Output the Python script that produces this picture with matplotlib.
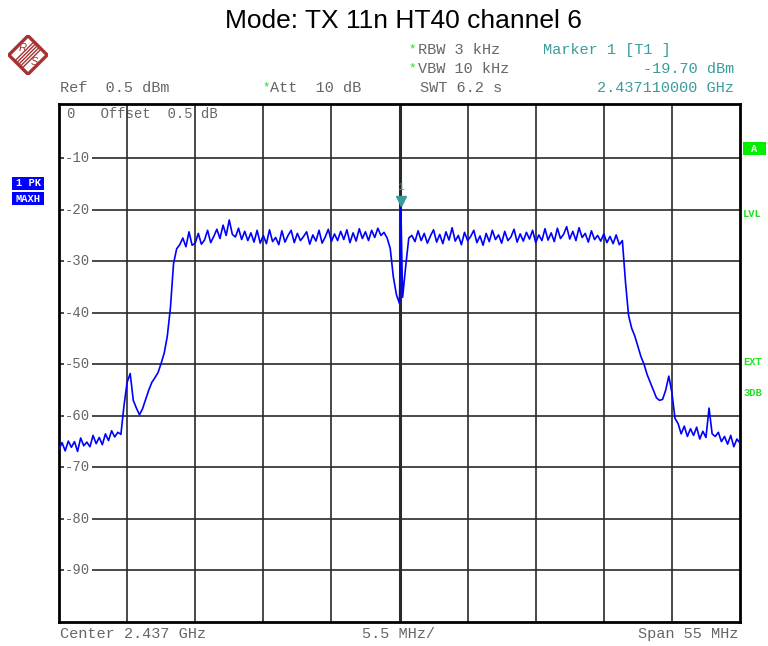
import numpy as np
import matplotlib
matplotlib.use('Agg')
import matplotlib.pyplot as plt
from matplotlib.patches import Polygon, Rectangle
import matplotlib.transforms as mtransforms

# Trace levels (dBm), sweep step 0.25 MHz, frequencies as offset from centre (MHz)
piso_esq = [-66.5, -65.2, -66.8, -64.9, -66.1, -65.0, -66.9, -64.3, -65.8, -65.1, -66.0,
            -63.8, -65.4, -64.2, -65.6, -63.5, -64.8, -62.9, -64.1, -63.2, -63.6]
borda_esq = [-58.0, -53.5, -51.8, -57.0, -58.5, -59.8, -58.6, -56.8, -55.0, -53.5, -52.6,
             -51.6, -49.8, -47.8, -44.5, -39.0, -30.5, -27.6]
banda_esq = [-26.8, -25.5, -27.2, -24.3, -26.9, -26.5, -24.6, -26.7, -25.9, -24.0, -26.4,
             -25.2, -23.8, -25.6, -23.0, -25.0, -22.0, -24.8, -25.3, -23.6, -25.8, -24.2,
             -26.0, -24.5, -26.3, -24.0, -26.5, -25.0, -26.6, -23.9, -26.2, -25.4, -26.8,
             -24.1, -26.3, -25.0, -24.0, -26.4, -24.6, -26.0, -25.2, -24.3, -26.7, -24.9,
             -26.1, -24.0, -26.5, -25.3, -23.8, -26.2, -24.7, -26.0, -24.2, -25.8, -23.9,
             -26.4, -24.5, -26.1, -23.7, -25.6, -24.3, -26.0, -24.0, -25.4, -23.6, -25.0,
             -24.4]
vale = [-25.5, -27.5, -33.0, -36.5, -38.2, -37.0, -31.0, -25.5]
banda_dir = [-25.0, -26.2, -24.1, -26.0, -24.6, -26.5, -25.1, -23.9, -26.3, -24.8, -26.6,
             -24.3, -25.9, -23.5, -26.1, -25.0, -26.8, -24.4, -26.0, -25.2, -24.0, -26.4,
             -25.1, -26.9, -24.6, -26.2, -24.0, -25.8, -24.9, -26.5, -24.2, -26.0, -25.3,
             -23.8, -26.3, -24.7, -26.1, -24.4, -25.7, -24.0, -26.4, -24.9, -26.0, -23.7,
             -25.9, -24.5, -26.2, -23.6, -25.6, -24.8, -23.3, -25.7, -24.2, -26.0, -23.5,
             -25.4, -24.6, -26.3, -24.1, -25.8, -25.0, -26.1, -24.7, -26.4, -25.2, -26.6,
             -24.9, -26.8]
borda_dir = [-26.0, -34.0, -40.5, -43.0, -44.5, -46.5, -48.5, -50.0, -52.0, -53.5, -55.0,
             -56.5, -57.0, -56.8, -55.0, -52.3, -55.5, -60.5]
piso_dir = [-61.5, -63.5, -62.0, -64.0, -62.5, -63.8, -62.2, -64.5, -63.0, -64.2, -58.5,
            -63.5, -64.0, -63.2, -65.0, -64.0, -65.5, -63.8, -66.0, -64.5, -65.3]

# start frequency of each segment (MHz offset)
segmentos = [(-27.5, piso_esq), (-22.25, borda_esq), (-17.75, banda_esq), (-1.0, vale),
             (1.0, banda_dir), (18.0, borda_dir), (22.5, piso_dir)]

# marker 1
marcador_freq = 0.11    # 2.437110000 GHz
marcador_nivel = -19.70

centro_ghz = 2.437
span_mhz = 55
ref_dbm = 0.5
niveis_grade = [-10, -20, -30, -40, -50, -60, -70, -80, -90]

freqs = []
niveis = []
for inicio, vals in segmentos:
    for k, v in enumerate(vals):
        freqs.append(inicio + 0.25 * k)
        niveis.append(v)
freqs = np.array(freqs)
niveis = np.array(niveis)
pos = np.searchsorted(freqs, marcador_freq)
freqs = np.insert(freqs, pos, marcador_freq)
niveis = np.insert(niveis, pos, marcador_nivel)

W, H = 768, 646
fig = plt.figure(figsize=(W / 100, H / 100), dpi=100)


def px(x, y):
    return x / W, 1 - y / H


mono = 'Liberation Mono'
cinza = '#666666'
teal = '#3a9c9c'
verde = '#22dd22'

ax = fig.add_axes([59 / W, 1 - 622 / H, (740 - 59) / W, (622 - 104) / H])
ax.set_xlim(-span_mhz / 2, span_mhz / 2)
ax.set_ylim(-100, ref_dbm)
ax.set_xticks([])
ax.set_yticks([])
for s in ax.spines.values():
    s.set_linewidth(2.0)
    s.set_color('black')

div = span_mhz / 10
for k in range(1, 10):
    xv = -span_mhz / 2 + k * div
    ax.axvline(xv, color='#2a2a2a', lw=2.2 if k == 5 else 1.2, zorder=1)
for lv in niveis_grade:
    ax.axhline(lv, color='#2a2a2a', lw=1.2, zorder=1)

ax.plot(freqs, niveis, color='#0000ff', lw=1.2, zorder=3)

# level labels inside the grid
trans = mtransforms.blended_transform_factory(ax.transAxes, ax.transData)
for lv in niveis_grade:
    ax.text(0.009, lv, '-' + str(abs(lv)), transform=trans, fontsize=10, family=mono,
            color=cinza, va='center', ha='left', zorder=2,
            bbox=dict(facecolor='white', edgecolor='none', pad=1.0))
ax.text(0.012, 0.981, '0   Offset  0.5 dB', transform=ax.transAxes, fontsize=10,
        family=mono, color=cinza, va='center', ha='left', zorder=0.5)

# marker symbol
ax.plot([marcador_freq], [marcador_nivel + 1.4], marker='v', color=teal, ms=7, zorder=4)
ax.text(marcador_freq, marcador_nivel + 3.2, '1', fontsize=8, family=mono, color=teal,
        ha='center', va='bottom', zorder=4)

# title
fig.text(*px(403, 21), 'Mode: TX 11n HT40 channel 6', fontsize=19,
         family='Liberation Sans', ha='center', va='center')

# header
fs = 11
fig.text(*px(60, 88), 'Ref  0.5 dBm', family=mono, fontsize=fs, color=cinza, va='center')
fig.text(*px(262, 87), '*', family=mono, fontsize=9, color=verde, va='center')
fig.text(*px(270, 88), 'Att  10 dB', family=mono, fontsize=fs, color=cinza, va='center')
fig.text(*px(408, 49), '*', family=mono, fontsize=9, color=verde, va='center')
fig.text(*px(418, 50), 'RBW 3 kHz', family=mono, fontsize=fs, color=cinza, va='center')
fig.text(*px(408, 68), '*', family=mono, fontsize=9, color=verde, va='center')
fig.text(*px(418, 69), 'VBW 10 kHz', family=mono, fontsize=fs, color=cinza, va='center')
fig.text(*px(420, 88), 'SWT 6.2 s', family=mono, fontsize=fs, color=cinza, va='center')
fig.text(*px(543, 50), 'Marker 1 [T1 ]', family=mono, fontsize=fs, color=teal, va='center')
fig.text(*px(734, 69), f'{marcador_nivel:.2f} dBm', family=mono, fontsize=fs, color=teal,
         va='center', ha='right')
fig.text(*px(734, 88), f'{centro_ghz + marcador_freq / 1000:.9f} GHz', family=mono,
         fontsize=fs, color=teal, va='center', ha='right')

# footer
fig.text(*px(60, 634), f'Center {centro_ghz} GHz', family=mono, fontsize=fs, color=cinza,
         va='center')
fig.text(*px(398, 634), f'{div} MHz/', family=mono, fontsize=fs, color=cinza,
         va='center', ha='center')
fig.text(*px(738, 634), f'Span {span_mhz} MHz', family=mono, fontsize=fs, color=cinza,
         va='center', ha='right')

# trace info boxes on the left
for y0, txt in [(177, '1 PK'), (192, 'MAXH')]:
    fig.patches.append(Rectangle(px(12, y0 + 13), 32 / W, 13 / H, transform=fig.transFigure,
                                 facecolor='#0000ff', edgecolor='none'))
    fig.text(*px(28, y0 + 6.5), txt, family=mono, fontsize=7.5, color='white',
             weight='bold', ha='center', va='center')

# right side status labels
fig.patches.append(Rectangle(px(743, 155), 23 / W, 13 / H, transform=fig.transFigure,
                             facecolor='#00ee00', edgecolor='none'))
fig.text(*px(754.5, 148.5), 'A', family=mono, fontsize=7.5, color='white', weight='bold',
         ha='center', va='center')
for y0, txt in [(214, 'LVL'), (362, 'EXT'), (393, '3DB')]:
    fig.text(*px(743, y0), txt, family=mono, fontsize=7.5, color='#22dd22', weight='bold',
             va='center')

# R&S logo
axl = fig.add_axes([8 / W, 1 - 75 / H, 40 / W, 40 / H])
axl.set_xlim(0, 1)
axl.set_ylim(0, 1)
axl.axis('off')
vermelho = '#a83232'
axl.add_patch(Polygon([(0.5, 0.02), (0.98, 0.5), (0.5, 0.98), (0.02, 0.5)], closed=True,
                      fill=False, edgecolor=vermelho, lw=2.4))
for d in [-0.09, -0.045, 0.0, 0.045, 0.09]:
    axl.plot([0.26 + d, 0.74 + d], [0.26 - d, 0.74 - d], color=vermelho, lw=1.0)
axl.text(0.36, 0.67, 'R', color=vermelho, fontsize=8, style='italic', ha='center',
         va='center', family='Liberation Sans')
axl.text(0.65, 0.32, 'S', color=vermelho, fontsize=8, style='italic', ha='center',
         va='center', family='Liberation Sans')

fig.savefig('out.png', dpi=100)
